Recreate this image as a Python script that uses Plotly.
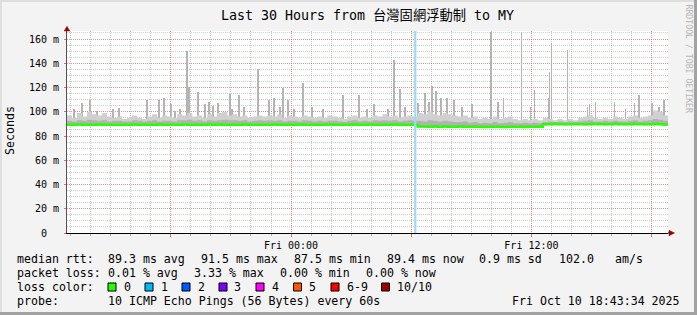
import plotly.graph_objects as go
import pandas as pd

# ---------------- data ----------------
range_start = "2025-10-09 12:49"
range_end = "2025-10-10 18:49"
bin_minutes = 15  # consolidation step of the smoke / median arrays

# upper edge of light smoke (ms), 120 bins of 15 min
smoke_hi = [
    97, 95, 99, 96, 100, 98, 97, 99, 96, 95,
    96, 94, 95, 97, 95, 94, 96, 98, 95, 97,
    96, 95, 98, 97, 99, 96, 97, 95, 98, 96,
    99, 100, 97, 98, 96, 97, 95, 96, 97, 96,
    97, 96, 98, 95, 97, 96, 95, 97, 96, 95,
    96, 95, 97, 96, 95, 94, 96, 97, 95, 96,
    95, 97, 96, 98, 96, 97, 95, 96, 97, 96,
    99, 98, 100, 98, 97, 99, 98, 97, 96, 97,
    95, 96, 94, 95, 94, 96, 94, 95, 96, 94,
    93, 94, 93, 94, 93, 95, 94, 93, 94, 93,
    94, 93, 95, 96, 97, 95, 94, 95, 94, 96,
    95, 94, 96, 97, 95, 96, 97, 101, 100, 97,
]
# upper edge of the darker inner smoke (ms)
smoke_mid = [
    92.5, 92, 93, 92.5, 93.5, 93, 92.5, 93, 92, 92.5,
    92.5, 92, 92, 93, 92.5, 92, 92.5, 93, 92, 92.5,
    92.5, 92, 93, 93, 93.5, 92.5, 93, 92, 93, 92.5,
    93, 93.5, 93, 93, 92.5, 93, 92, 92.5, 93, 92.5,
    93, 92.5, 93, 92, 92.5, 92.5, 92, 93, 92.5, 92,
    92.5, 92, 92.5, 92.5, 92, 91.5, 92.5, 93, 92, 92.5,
    92, 93, 92.5, 93, 92.5, 93, 92, 92.5, 93, 92.5,
    92.5, 92, 93, 92.5, 92, 92.5, 92, 91.5, 91.5, 92,
    91, 91.5, 90.5, 91, 90.5, 91.5, 90.5, 91, 91.5, 90.5,
    90.5, 91, 90.5, 91, 90.5, 91.5, 92, 91.5, 92, 91.5,
    92, 91.5, 92, 92.5, 93, 92, 92, 92.5, 92, 92.5,
    92, 92, 92.5, 93, 92, 92.5, 93, 94, 93.5, 92.5,
]
# lower edge of smoke (ms)
smoke_lo = [
    88.6, 88.5, 88.7, 88.6, 88.5, 88.6, 88.7, 88.5, 88.6, 88.6,
    88.5, 88.6, 88.6, 88.7, 88.5, 88.6, 88.6, 88.5, 88.7, 88.6,
    88.6, 88.5, 88.6, 88.7, 88.6, 88.6, 88.5, 88.6, 88.7, 88.6,
    88.7, 88.6, 88.5, 88.6, 88.6, 88.7, 88.6, 88.5, 88.6, 88.6,
    88.6, 88.7, 88.6, 88.5, 88.6, 88.6, 88.7, 88.6, 88.6, 88.5,
    88.6, 88.6, 88.7, 88.6, 88.5, 88.6, 88.6, 88.7, 88.6, 88.6,
    88.7, 88.6, 88.6, 88.5, 88.6, 88.7, 88.6, 88.6, 88.5, 88.6,
    87.2, 87.1, 87.0, 87.1, 87.0, 87.1, 86.9, 87.0, 87.1, 87.0,
    86.9, 87.0, 86.9, 86.8, 86.9, 87.0, 86.9, 86.8, 86.9, 87.0,
    86.9, 86.8, 86.9, 87.0, 86.9, 88.9, 89.0, 89.1, 89.0, 88.9,
    89.0, 89.1, 89.0, 88.9, 89.0, 89.1, 89.0, 88.9, 89.0, 89.1,
    89.0, 88.9, 89.0, 89.1, 89.0, 88.9, 89.0, 89.1, 89.0, 88.7,
]
# median rtt (ms)
median_rtt = [
    89.3, 89.2, 89.4, 89.3, 89.2, 89.3, 89.4, 89.2, 89.3, 89.3,
    89.2, 89.3, 89.3, 89.4, 89.2, 89.3, 89.3, 89.2, 89.4, 89.3,
    89.3, 89.2, 89.3, 89.4, 89.3, 89.3, 89.2, 89.3, 89.4, 89.3,
    89.4, 89.3, 89.2, 89.3, 89.3, 89.4, 89.3, 89.2, 89.3, 89.3,
    89.3, 89.4, 89.3, 89.2, 89.3, 89.3, 89.4, 89.3, 89.3, 89.2,
    89.3, 89.3, 89.4, 89.3, 89.2, 89.3, 89.3, 89.4, 89.3, 89.3,
    89.4, 89.3, 89.3, 89.2, 89.3, 89.4, 89.3, 89.3, 89.2, 89.3,
    87.9, 87.8, 87.7, 87.8, 87.7, 87.8, 87.6, 87.7, 87.8, 87.7,
    87.6, 87.7, 87.6, 87.5, 87.6, 87.7, 87.6, 87.5, 87.6, 87.7,
    87.6, 87.5, 87.6, 87.7, 87.6, 89.6, 89.7, 89.8, 89.7, 89.6,
    89.7, 89.8, 89.7, 89.6, 89.7, 89.8, 89.7, 89.6, 89.7, 89.8,
    89.7, 89.6, 89.7, 89.8, 89.7, 89.6, 89.7, 89.8, 89.7, 89.4,
]
# isolated high pings (time, ms)
spike_times = [
    "2025-10-09 13:09", "2025-10-09 13:33", "2025-10-09 13:57", "2025-10-09 14:18",
    "2025-10-09 15:06", "2025-10-09 15:24", "2025-10-09 16:48", "2025-10-09 17:24",
    "2025-10-09 17:39", "2025-10-09 18:00", "2025-10-09 18:12", "2025-10-09 18:27",
    "2025-10-09 18:48", "2025-10-09 18:54", "2025-10-09 19:21", "2025-10-09 19:42",
    "2025-10-09 19:54", "2025-10-09 20:06", "2025-10-09 20:21", "2025-10-09 20:57",
    "2025-10-09 21:03", "2025-10-09 21:24", "2025-10-09 21:39", "2025-10-09 22:21",
    "2025-10-09 22:54", "2025-10-09 23:09", "2025-10-09 23:27", "2025-10-09 23:36",
    "2025-10-09 23:51", "2025-10-10 00:09", "2025-10-10 00:36", "2025-10-10 01:03",
    "2025-10-10 01:36", "2025-10-10 02:36", "2025-10-10 03:24", "2025-10-10 03:48",
    "2025-10-10 04:09", "2025-10-10 04:51", "2025-10-10 05:09", "2025-10-10 05:27",
    "2025-10-10 05:42", "2025-10-10 06:21", "2025-10-10 06:42", "2025-10-10 06:54",
    "2025-10-10 07:03", "2025-10-10 07:15", "2025-10-10 07:30", "2025-10-10 07:48",
    "2025-10-10 08:09", "2025-10-10 08:33", "2025-10-10 09:03", "2025-10-10 10:00",
    "2025-10-10 10:21", "2025-10-10 10:36", "2025-10-10 11:30", "2025-10-10 11:57",
    "2025-10-10 12:09", "2025-10-10 12:51", "2025-10-10 12:54", "2025-10-10 13:00",
    "2025-10-10 13:48", "2025-10-10 14:48", "2025-10-10 14:54", "2025-10-10 15:12",
    "2025-10-10 16:09", "2025-10-10 16:42", "2025-10-10 17:09", "2025-10-10 17:21",
    "2025-10-10 18:00", "2025-10-10 18:21", "2025-10-10 18:36",
]
spike_ms = [
    102, 107, 110, 101,
    102.5, 103.5, 110, 110,
    111, 106.7, 101, 102,
    150, 120.6, 116.7, 106,
    108, 105, 107, 114.6,
    102, 114, 104, 135,
    109.5, 111, 104, 119.5,
    110, 102, 124, 104,
    102, 114, 114, 102,
    106.7, 102.5, 143, 119,
    104, 107, 115.6, 108,
    121, 117.5, 111.4, 111,
    110, 104, 106.7, 166,
    108, 111, 166, 104,
    117.8, 111.5, 133, 156.7,
    150.7, 104, 106, 108,
    108, 102, 107, 113.6,
    107, 104, 110,
]
loss_event_times = ["2025-10-10 06:12"]

y_tick_values = [0, 20, 40, 60, 80, 100, 120, 140, 160]
y_tick_labels = ["0\u00a0\u00a0", "20 m", "40 m", "60 m", "80 m", "100 m", "120 m", "140 m", "160 m"]
x_tick_values = ["2025-10-09 18:00", "2025-10-10 00:00", "2025-10-10 06:00",
                 "2025-10-10 12:00", "2025-10-10 18:00"]
x_tick_labels = ["", "Fri 00:00", "", "Fri 12:00", ""]

title_text = "Last 30 Hours from 台灣固網浮動制 to MY"
loss_labels = ["0", "1", "2", "3", "4", "5", "6-9", "10/10"]
loss_colors = ["#26ff00", "#00b8ff", "#0059ff", "#7e00ff", "#ff00ff", "#ff5500", "#ff0000", "#a10000"]
median_stats = ["89.3 ms avg", "91.5 ms max", "87.5 ms min", "89.4 ms now", "0.9 ms sd", "102.0", "am/s"]
loss_stats = ["0.01 % avg", "3.33 % max", "0.00 % min", "0.00 % now"]
probe_text = "10 ICMP Echo Pings (56 Bytes) every 60s"
stamp_text = "Fri Oct 10 18:43:34 2025"

# ---------------- figure ----------------
W, H = 697, 315
L, R, T, B = 67, 668, 31, 233  # plot area in px


def px(x):
    return (x - L) / (R - L)


def py(y):
    return (B - y) / (B - T)


edges = list(pd.date_range(range_start, periods=len(median_rtt) + 1, freq=f"{bin_minutes}min"))


def step(v):
    return list(v) + [v[-1]]


fig = go.Figure()
common = dict(mode="lines", hoverinfo="skip", showlegend=False)

fig.add_trace(go.Bar(x=spike_times, y=[s - 90 for s in spike_ms], base=90,
                     width=140000, marker=dict(color="#b4b4b4", line=dict(width=0)),
                     hoverinfo="skip", showlegend=False))
fig.add_trace(go.Scatter(x=edges, y=step(smoke_lo), line=dict(width=0, shape="hv"), **common))
fig.add_trace(go.Scatter(x=edges, y=step(smoke_hi), line=dict(width=0, shape="hv"),
                         fill="tonexty", fillcolor="#d0d0d0", **common))
fig.add_trace(go.Scatter(x=edges, y=step(smoke_lo), line=dict(width=0, shape="hv"), **common))
fig.add_trace(go.Scatter(x=edges, y=step(smoke_mid), line=dict(width=0, shape="hv"),
                         fill="tonexty", fillcolor="#b2b2b2", **common))
fig.add_trace(go.Scatter(x=edges, y=step(median_rtt),
                         line=dict(width=2.5, shape="hv", color="#26ff00"), **common))

for t in loss_event_times:
    fig.add_vline(x=t, line=dict(color="#9fdaf3", width=2.2), layer="above")

mono = "DejaVu Sans Mono"
grid_red = "rgba(235,80,80,0.45)"
grid_grey = "rgba(120,120,120,0.38)"

fig.update_layout(
    width=W, height=H,
    margin=dict(l=L, r=W - R, t=T, b=H - B, pad=0),
    paper_bgcolor="#f3f3f3", plot_bgcolor="#ffffff",
    showlegend=False, bargap=0,
    font=dict(family=mono, color="#000000"),
    title=dict(text=title_text, x=0.5, xanchor="center", xref="paper",
               y=1 - 15 / H, yanchor="middle",
               font=dict(family=mono + ", Noto Sans CJK TC", size=13.3, color="#000000")),
    xaxis=dict(
        type="date", range=[range_start, range_end],
        tickvals=x_tick_values, ticktext=x_tick_labels,
        tickfont=dict(family=mono, size=10, color="#000000"),
        ticks="outside", ticklen=3, tickcolor="#e07070", tickwidth=1,
        showgrid=True, gridcolor=grid_red, gridwidth=1, griddash="1px,1px",
        minor=dict(dtick=3600000, tick0="2025-10-09 13:00", showgrid=True,
                   gridcolor=grid_grey, gridwidth=1, griddash="1px,1px",
                   ticks="outside", ticklen=2, tickcolor="#b0b0b0"),
        showline=True, linecolor="#000000", linewidth=1, zeroline=False,
        fixedrange=True,
    ),
    yaxis=dict(
        range=[0, 166.6],
        tickvals=y_tick_values, ticktext=y_tick_labels,
        tickfont=dict(family=mono, size=10, color="#000000"),
        ticks="outside", ticklen=2, tickcolor="#e07070",
        ticklabelstandoff=3,
        showgrid=True, gridcolor=grid_red, gridwidth=1, griddash="1px,1px",
        minor=dict(dtick=5, tick0=0, showgrid=True, gridcolor=grid_grey,
                   gridwidth=1, griddash="1px,1px"),
        showline=True, linecolor="#555555", linewidth=1, zeroline=False,
        fixedrange=True,
    ),
)

ann = []


def text(x, y, s, size=11.6, anchor="left", color="#000000", angle=0):
    ann.append(dict(x=px(x), y=py(y), xref="paper", yref="paper", text=s,
                    showarrow=False, xanchor=anchor, yanchor="middle",
                    textangle=angle, borderpad=0,
                    font=dict(family=mono, size=size, color=color)))


text(10, 131, "Seconds", size=11.6, anchor="center", angle=-90)
text(688.5, 59, "RRDTOOL / TOBI OETIKER", size=8.2, anchor="center", color="#b5b5b5", angle=90)

row_y = [259.3, 273.3, 286.8, 301]
text(15.5, row_y[0], "median rtt:")
for s, x in zip(median_stats, [106.5, 199.5, 292.5, 385.5, 478.5, 557.5, 613.5]):
    text(x, row_y[0], s)
text(15.5, row_y[1], "packet loss:")
for s, x in zip(loss_stats, [106.5, 192.5, 278.5, 364.5]):
    text(x, row_y[1], s)
text(15.5, row_y[2], "loss color:")
sq_x = [108, 145, 182, 219, 256, 293.5, 331, 381.5]
shapes = []
for lab, col, x in zip(loss_labels, loss_colors, sq_x):
    shapes.append(dict(type="rect", xref="paper", yref="paper",
                       x0=px(x), x1=px(x + 8), y0=py(291), y1=py(283),
                       fillcolor=col, line=dict(color="#000000", width=1)))
    text(x + 14.5, row_y[2], lab)
text(15.5, row_y[3], "probe:")
text(106.5, row_y[3], probe_text)
text(681, row_y[3], stamp_text, anchor="right")

# axis arrows (dark red)
arrow = "#9a0000"
shapes.append(dict(type="line", xref="paper", yref="paper", x0=px(67), x1=px(67),
                   y0=py(T), y1=py(29), line=dict(color="#555555", width=1)))
shapes.append(dict(type="path", xref="paper", yref="paper",
                   path=f"M {px(64.2)} {py(31)} L {px(67)} {py(26.3)} L {px(69.8)} {py(31)} Z",
                   fillcolor=arrow, line=dict(color=arrow, width=0.5)))
shapes.append(dict(type="line", xref="paper", yref="paper", x0=px(R), x1=px(670),
                   y0=py(B), y1=py(B), line=dict(color="#000000", width=1)))
shapes.append(dict(type="path", xref="paper", yref="paper",
                   path=f"M {px(669)} {py(230.3)} L {px(674.5)} {py(233)} L {px(669)} {py(235.7)} Z",
                   fillcolor=arrow, line=dict(color=arrow, width=0.5)))

# frame: light top/left, dark bottom/right
shapes.append(dict(type="rect", xref="paper", yref="paper", x0=px(0), x1=px(W), y0=py(0), y1=py(2),
                   fillcolor="#dedede", line=dict(width=0), layer="below"))
shapes.append(dict(type="rect", xref="paper", yref="paper", x0=px(0), x1=px(2), y0=py(0), y1=py(H),
                   fillcolor="#dedede", line=dict(width=0), layer="below"))
shapes.append(dict(type="rect", xref="paper", yref="paper", x0=px(W - 3), x1=px(W), y0=py(0), y1=py(H),
                   fillcolor="#a2a2a2", line=dict(width=0)))
shapes.append(dict(type="rect", xref="paper", yref="paper", x0=px(0), x1=px(W), y0=py(H - 3), y1=py(H),
                   fillcolor="#a2a2a2", line=dict(width=0)))

fig.update_layout(annotations=ann, shapes=list(fig.layout.shapes) + shapes)

fig.write_html("out.html")
